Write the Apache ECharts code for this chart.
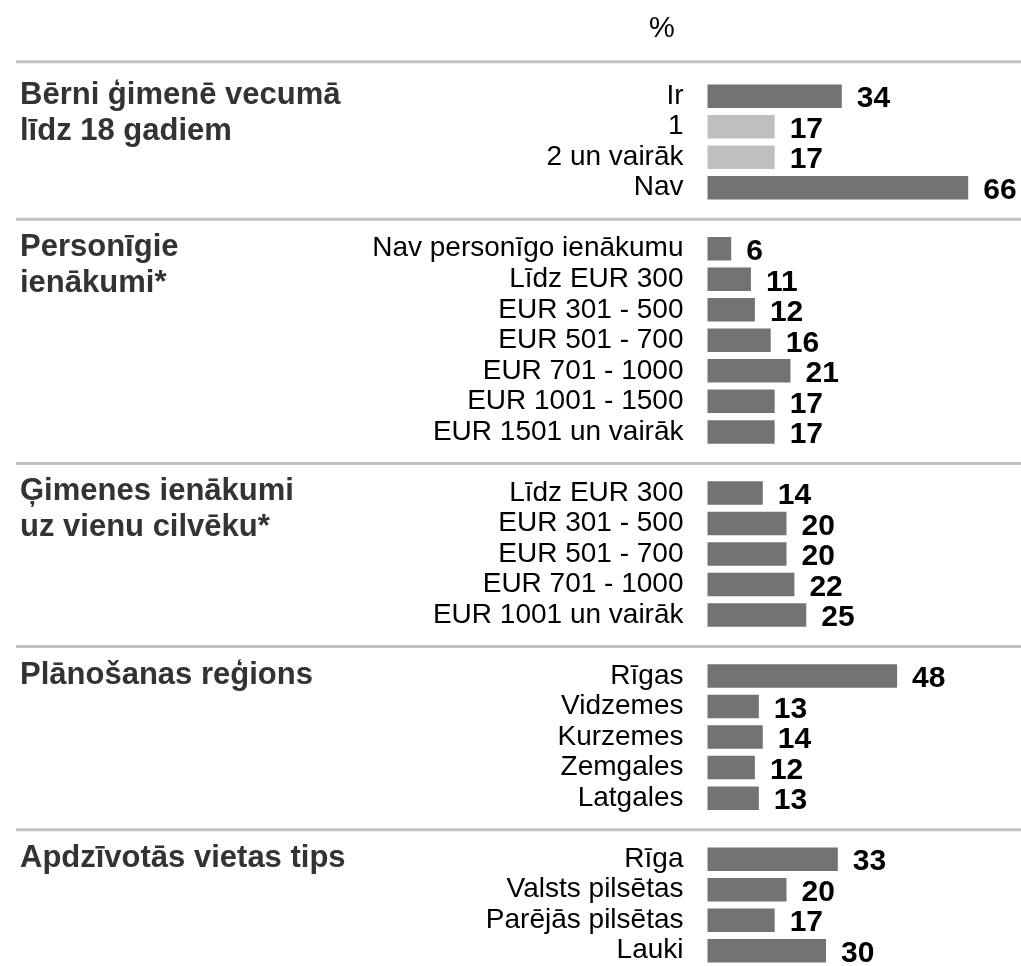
<!DOCTYPE html>
<html lang="lv">
<head>
<meta charset="utf-8">
<title>%</title>
<script src="https://cdn.jsdelivr.net/npm/echarts@6/dist/echarts.min.js"></script>
<style>
  html, body { margin: 0; padding: 0; background: #ffffff; }
  #chart { width: 1021px; height: 966px; }
</style>
</head>
<body>
<div id="chart"></div>
<script>
// Survey breakdown, values in percent
const groupTitles = [
  'Bērni ģimenē vecumā\nlīdz 18 gadiem',
  'Personīgie\nienākumi*',
  'Ģimenes ienākumi\nuz vienu cilvēku*',
  'Plānošanas reģions',
  'Apdzīvotās vietas tips'
];

const childrenCats = ['Ir', '1', '2 un vairāk', 'Nav'];
const childrenVals = [34, 17, 17, 66];

const personalIncomeCats = ['Nav personīgo ienākumu', 'Līdz EUR 300', 'EUR 301 - 500', 'EUR 501 - 700', 'EUR 701 - 1000', 'EUR 1001 - 1500', 'EUR 1501 un vairāk'];
const personalIncomeVals = [6, 11, 12, 16, 21, 17, 17];

const familyIncomeCats = ['Līdz EUR 300', 'EUR 301 - 500', 'EUR 501 - 700', 'EUR 701 - 1000', 'EUR 1001 un vairāk'];
const familyIncomeVals = [14, 20, 20, 22, 25];

const regionCats = ['Rīgas', 'Vidzemes', 'Kurzemes', 'Zemgales', 'Latgales'];
const regionVals = [48, 13, 14, 12, 13];

const settlementCats = ['Rīga', 'Valsts pilsētas', 'Parējās pilsētas', 'Lauki'];
const settlementVals = [33, 20, 17, 30];

// sub-rows of "Ir" in the first group, shown in a lighter shade
const childrenSubRows = ['1', '2 un vairāk'];

const groupCats = [childrenCats, personalIncomeCats, familyIncomeCats, regionCats, settlementCats];
const groupVals = [childrenVals, personalIncomeVals, familyIncomeVals, regionVals, settlementVals];

// one continuous category axis, with an empty row between groups
const categories = [];
const values = [];
const firstRow = [];
const spacerRows = [];
const lightRows = [];
groupCats.forEach((cats, gi) => {
  if (gi > 0) {
    spacerRows.push(categories.length);
    categories.push('');
    values.push('-');
  }
  firstRow.push(categories.length);
  cats.forEach((c, i) => {
    if (gi === 0 && childrenSubRows.indexOf(c) >= 0) lightRows.push(categories.length);
    categories.push(c);
    values.push(groupVals[gi][i]);
  });
});

const FONT = '"Liberation Sans", Arial, Helvetica, sans-serif';
const DARK = '#737373';
const LIGHT = '#bfbfbf';
const PX_PER_UNIT = 3.95;
const X_MAX = 70;
const ROW = 30.68;

const chart = echarts.init(document.getElementById('chart'), null, { renderer: 'canvas' });

chart.setOption({
  backgroundColor: '#ffffff',
  animation: false,
  textStyle: { fontFamily: FONT },
  grid: {
    left: 707.5,
    top: 96.24 - ROW / 2,
    width: X_MAX * PX_PER_UNIT,
    height: ROW * categories.length,
    containLabel: false
  },
  xAxis: {
    type: 'value',
    min: 0,
    max: X_MAX,
    show: false
  },
  yAxis: {
    type: 'category',
    inverse: true,
    data: categories,
    axisLine: { show: false },
    axisTick: { show: false },
    splitLine: { show: false },
    axisLabel: {
      interval: 0,
      margin: 24,
      fontSize: 28,
      color: '#000000',
      fontFamily: FONT
    }
  },
  series: [{
    type: 'bar',
    data: values,
    barWidth: 23.5,
    itemStyle: {
      color: p => (lightRows.indexOf(p.dataIndex) >= 0 ? LIGHT : DARK)
    },
    label: {
      show: true,
      position: 'right',
      distance: 15,
      offset: [0, 3],
      fontSize: 30,
      fontWeight: 'bold',
      color: '#000000',
      fontFamily: FONT
    }
  }]
});

// separators and group headings placed from the axis rows
const rowY = idx => chart.convertToPixel({ yAxisIndex: 0 }, idx);
const graphics = [];
const sepYs = [rowY(firstRow[0]) - 34.5].concat(spacerRows.map(i => rowY(i) + 1));
sepYs.forEach(y => {
  graphics.push({
    type: 'line',
    shape: { x1: 16, y1: y, x2: 1021, y2: y },
    style: { stroke: '#c0c0c0', lineWidth: 3 }
  });
});
groupTitles.forEach((t, gi) => {
  graphics.push({
    type: 'text',
    x: 20,
    y: rowY(firstRow[gi]) - 19,
    style: {
      text: t,
      fontSize: 31,
      fontWeight: 'bold',
      fontFamily: FONT,
      lineHeight: 36,
      fill: '#333333',
      textAlign: 'left',
      textVerticalAlign: 'top'
    }
  });
});
graphics.push({
  type: 'text',
  x: 662,
  y: 29,
  style: {
    text: '%',
    fontSize: 29,
    fontFamily: FONT,
    fill: '#000000',
    textAlign: 'center',
    textVerticalAlign: 'middle'
  }
});
chart.setOption({ graphic: graphics });
</script>
</body>
</html>
